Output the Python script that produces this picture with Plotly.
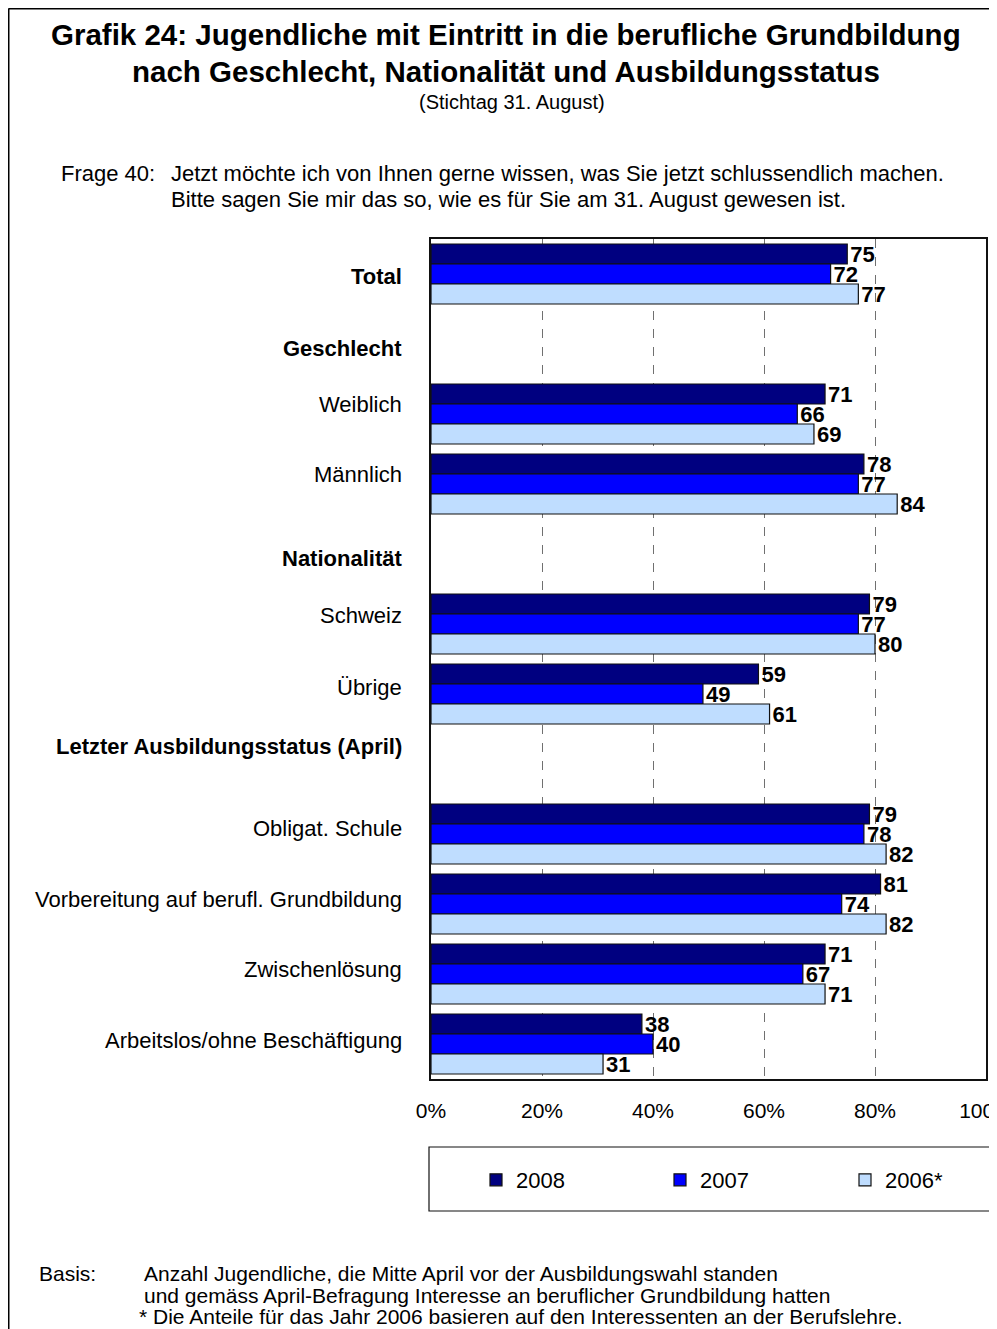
import plotly.graph_objects as go

categories = ['Total', 'Geschlecht', 'Weiblich', 'Männlich', 'Nationalität', 'Schweiz', 'Übrige',
              'Letzter Ausbildungsstatus (April)', 'Obligat. Schule',
              'Vorbereitung auf berufl. Grundbildung', 'Zwischenlösung',
              'Arbeitslos/ohne Beschäftigung']
bold_labels = ['Total', 'Geschlecht', 'Nationalität', 'Letzter Ausbildungsstatus (April)']

v2008 = [75, None, 71, 78, None, 79, 59, None, 79, 81, 71, 38]
v2007 = [72, None, 66, 77, None, 77, 49, None, 78, 74, 67, 40]
v2006 = [77, None, 69, 84, None, 80, 61, None, 82, 82, 71, 31]

x_ticks = [0, 20, 40, 60, 80, 100]
x_ticktext = ['0%', '20%', '40%', '60%', '80%', '100%']

series = [('2008', v2008, '#000080'), ('2007', v2007, '#0000FF'), ('2006*', v2006, '#BFDDFF')]
FONT = 'Liberation Sans, Arial, sans-serif'

# the page body adds an 8px margin, so the figure is drawn 8px smaller
OFF = 8
W, H = 997 - OFF, 1329 - OFF
PL, PR, PT, PB = 431, 986, 239, 1079   # plot area in reference pixels


def px(x):
    return (x - PL) / (PR - PL)


def py(y):
    return (PB - y) / (PB - PT)


fig = go.Figure()
legend_ids = ['legend', 'legend2', 'legend3']
for (name, vals, color), lg in zip(series, legend_ids):
    fig.add_trace(go.Bar(
        name=name, y=categories, x=vals, orientation='h', legend=lg,
        marker=dict(color=color, line=dict(color='#111111', width=1.2)),
        text=[f'<b>{v}</b>' if v is not None else '' for v in vals],
        textposition='outside', constraintext='none', cliponaxis=False,
        textfont=dict(family=FONT, size=22, color='black'),
    ))

# category labels (a little above the group centre, as in the original)
label_shift = [-2, -4, 10, 10, -4, 9, 7, 18, 6, 5, 5, 4]
for cat, dy in zip(categories, label_shift):
    txt = f'<b>{cat}</b>' if cat in bold_labels else cat
    fig.add_annotation(text=txt, xref='paper', yref='y', x=px(404), y=cat,
                       xanchor='right', yanchor='middle', yshift=dy, showarrow=False,
                       font=dict(family=FONT, size=22, color='black'))

legend_style = dict(xanchor='left', y=py(1180), yanchor='middle',
                    font=dict(family=FONT, size=22), bgcolor='rgba(0,0,0,0)')

fig.update_layout(
    width=W, height=H,
    margin=dict(l=PL - OFF, r=W - (PR - OFF), t=PT - OFF, b=H - (PB - OFF), autoexpand=False),
    paper_bgcolor='white', plot_bgcolor='white',
    barmode='group', bargap=0.143, bargroupgap=0,
    font=dict(family=FONT, size=21, color='black'),
    showlegend=True,
    legend=dict(x=px(476), **legend_style),
    legend2=dict(x=px(660), **legend_style),
    legend3=dict(x=px(845), **legend_style),
    xaxis=dict(
        range=[0, 100], tickvals=x_ticks, ticktext=x_ticktext,
        showgrid=True, gridcolor='#707070', gridwidth=1, griddash='dash',
        showline=True, linecolor='#111111', linewidth=2, mirror=True,
        ticks='outside', ticklen=12, tickcolor='rgba(0,0,0,0)',
        ticklabeloverflow='allow', zeroline=False, tickfont=dict(size=21)
    ),
    yaxis=dict(
        categoryorder='array', categoryarray=categories, autorange='reversed',
        showticklabels=False,
        showline=True, linecolor='#111111', linewidth=2, mirror=True,
        showgrid=False
    ),
)

# legend box and outer frame
fig.add_shape(type='rect', xref='paper', yref='paper',
              x0=px(429), x1=px(990), y0=py(1147), y1=py(1211),
              line=dict(color='#111111', width=1.2))
fig.add_shape(type='line', xref='paper', yref='paper',
              x0=px(8.5), x1=px(1010), y0=py(8.5), y1=py(8.5), line=dict(color='black', width=2))
fig.add_shape(type='line', xref='paper', yref='paper',
              x0=px(8.5), x1=px(8.5), y0=py(8.5), y1=py(1345), line=dict(color='black', width=2))

titles = [
    ('<b>Grafik 24: Jugendliche mit Eintritt in die berufliche Grundbildung</b>', 506, 35, 29.5),
    ('<b>nach Geschlecht, Nationalität und Ausbildungsstatus</b>', 506, 71, 29.5),
    ('(Stichtag 31. August)', 512, 102, 20),
]
for t, x, y, s in titles:
    fig.add_annotation(text=t, xref='paper', yref='paper', x=px(x), y=py(y),
                       xanchor='center', yanchor='middle', showarrow=False,
                       font=dict(family=FONT, size=s, color='black'))

notes = [
    ('Frage 40:', 59, 173, 22),
    ('Jetzt möchte ich von Ihnen gerne wissen, was Sie jetzt schlussendlich machen.', 169, 173, 22),
    ('Bitte sagen Sie mir das so, wie es für Sie am 31. August gewesen ist.', 169, 200, 22),
    ('Basis:', 37, 1273, 21),
    ('Anzahl Jugendliche, die Mitte April vor der Ausbildungswahl standen', 142, 1273, 21),
    ('und gemäss April-Befragung Interesse an beruflicher Grundbildung hatten', 142, 1295, 21),
    ('* Die Anteile für das Jahr 2006 basieren auf den Interessenten an der Berufslehre.', 137, 1316, 21),
]
for t, x, y, s in notes:
    fig.add_annotation(text=t, xref='paper', yref='paper', x=px(x), y=py(y),
                       xanchor='left', yanchor='middle', showarrow=False,
                       font=dict(family=FONT, size=s, color='black'))

fig.write_html('out.html')
